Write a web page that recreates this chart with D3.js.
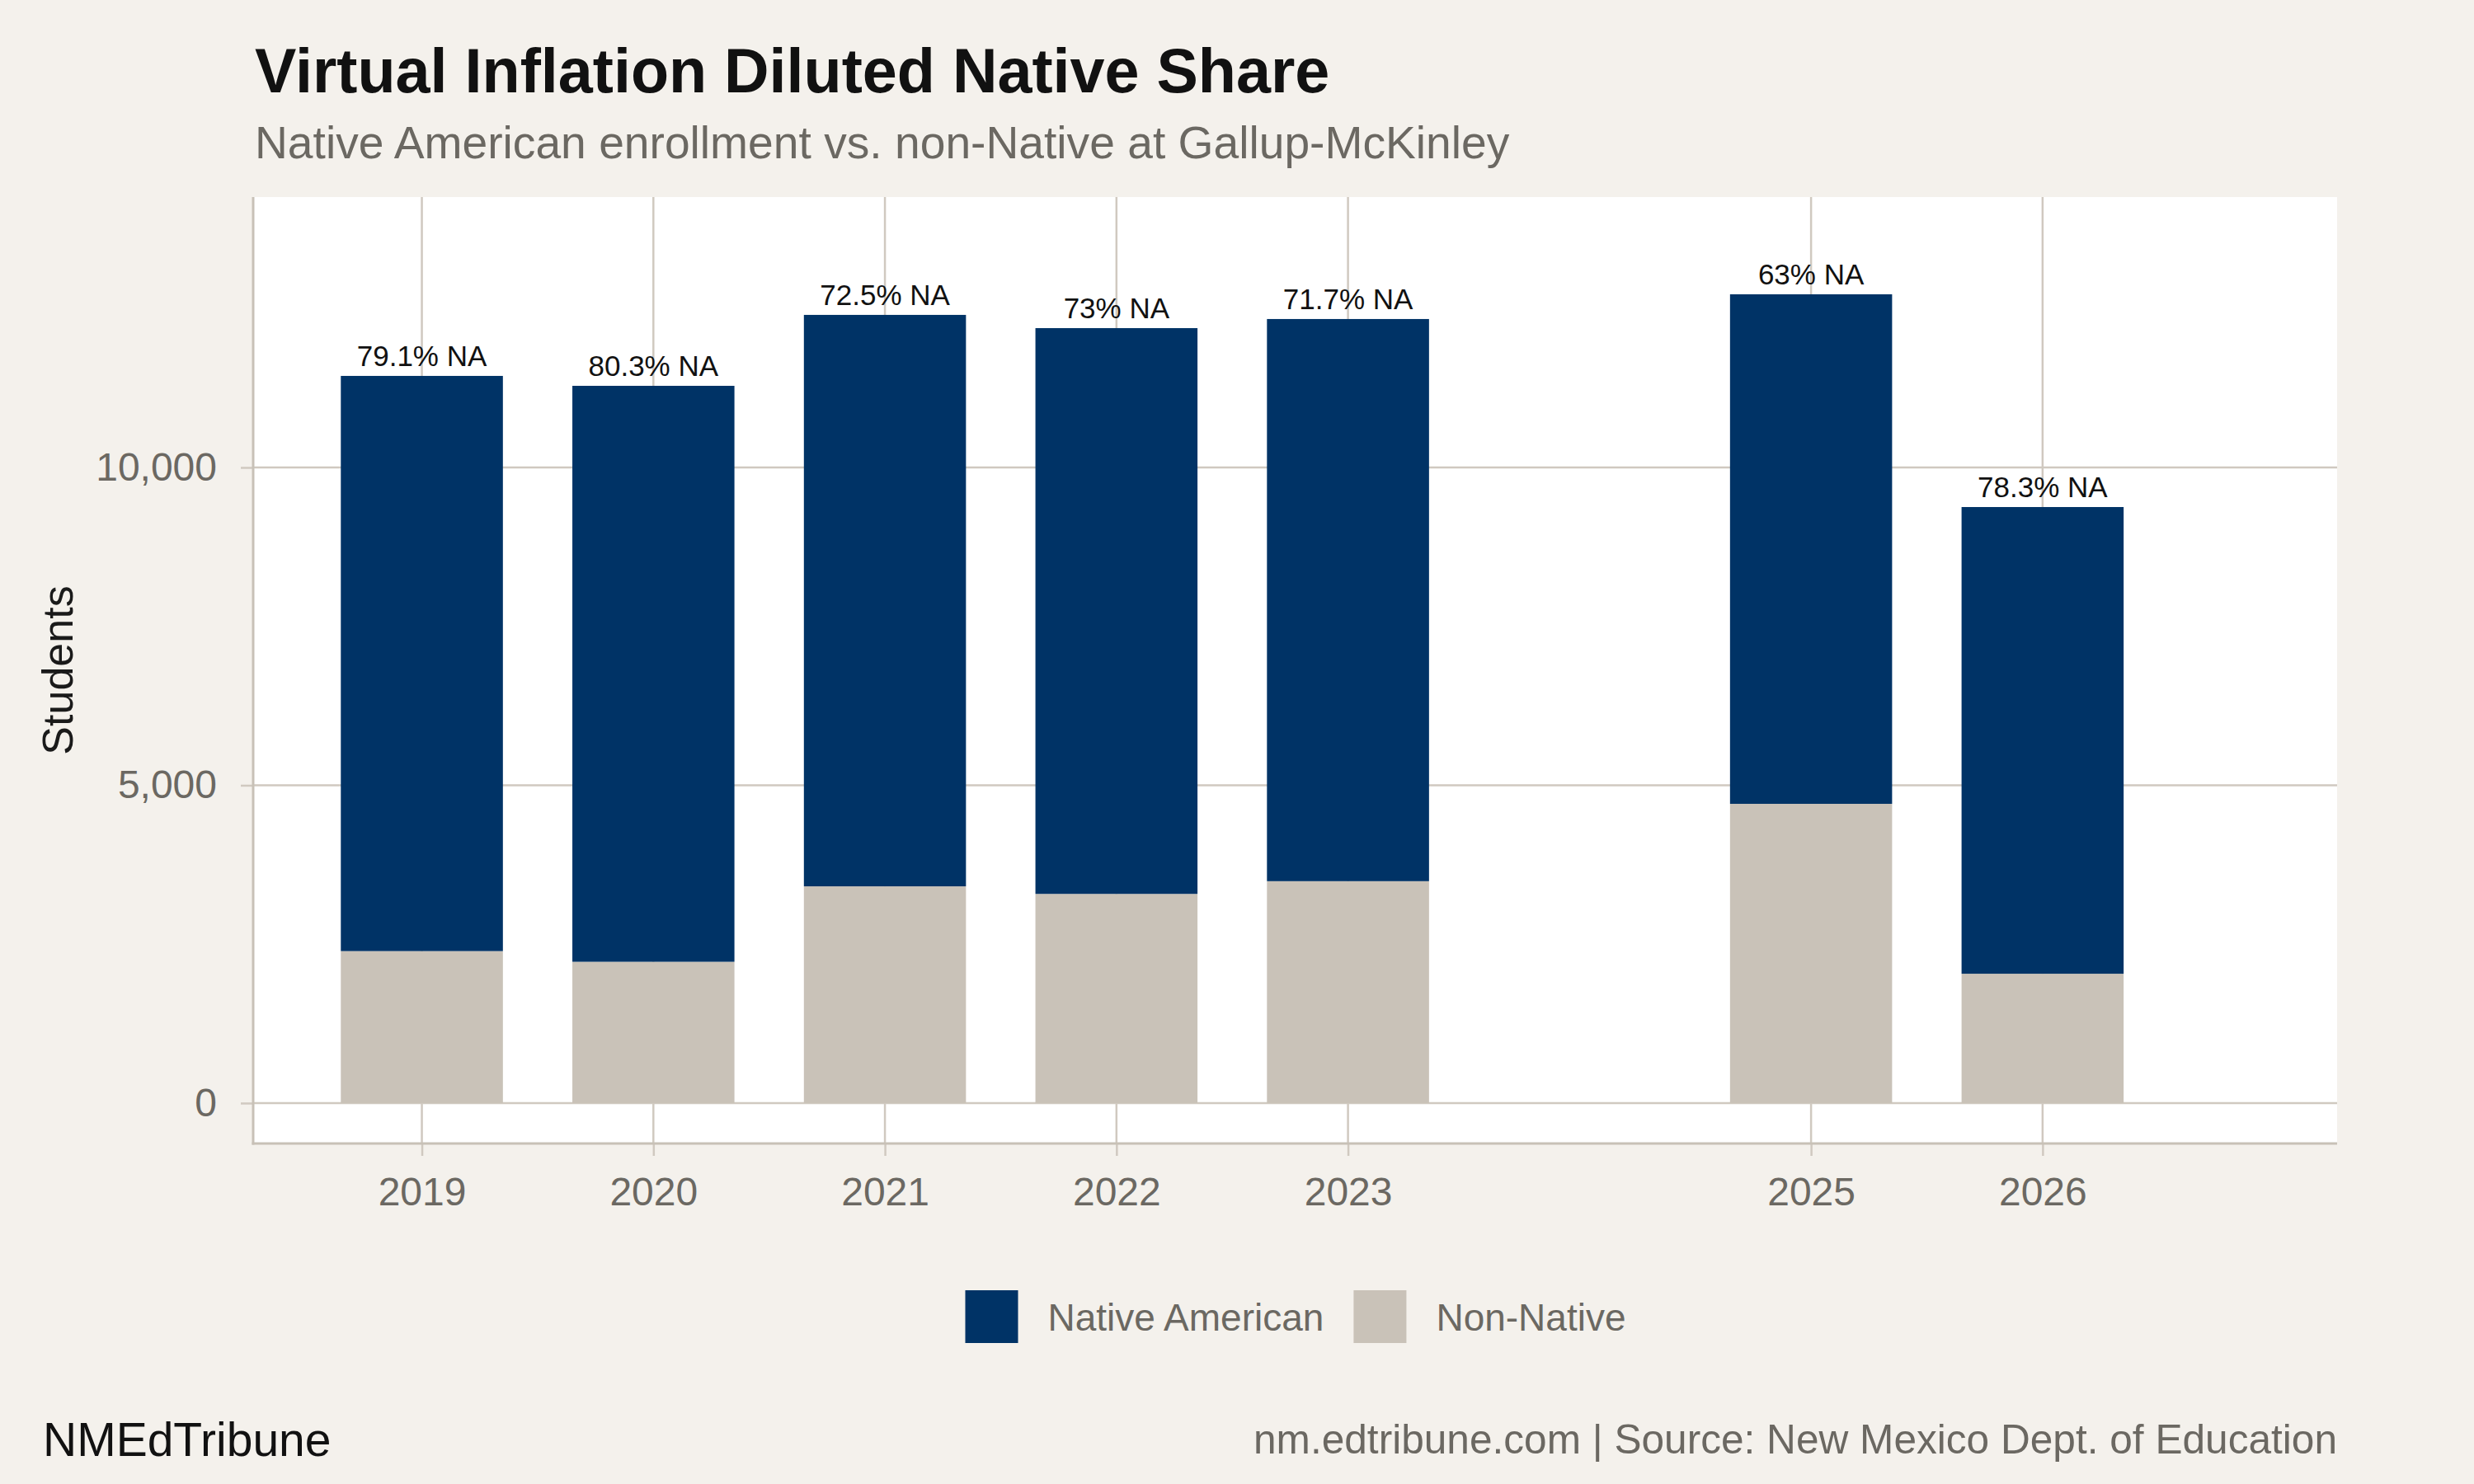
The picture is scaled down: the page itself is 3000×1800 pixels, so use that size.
<!DOCTYPE html>
<html>
<head>
<meta charset="utf-8">
<script src="https://cdn.jsdelivr.net/npm/d3@7"></script>
<style>
  html, body { margin: 0; padding: 0; background: #f4f1ec; }
  svg { display: block; font-family: "Liberation Sans", Arial, Helvetica, sans-serif; }
</style>
</head>
<body>
<svg id="chart" width="3000" height="1800"></svg>
<script>
// ---- data ----
const years = [2019, 2020, 2021, 2022, 2023, 2025, 2026];
const nativeAmerican = [9049, 9061, 8990, 8901, 8844, 8016, 7342];
const nonNative = [2391, 2223, 3410, 3291, 3491, 4708, 2035];
const yTicks = [0, 5000, 10000];
const seriesNames = ["Native American", "Non-Native"];
const seriesColors = ["#003366", "#c9c2b8"];

const titleText = "Virtual Inflation Diluted Native Share";
const subtitleText = "Native American enrollment vs. non-Native at Gallup-McKinley";
const yLabel = "Students";
const footLeft = "NMEdTribune";
const footRight = "nm.edtribune.com | Source: New Mexico Dept. of Education";

// ---- layout ----
const W = 3000, H = 1800;
const panel = { left: 308, right: 2834, top: 239, bottom: 1387 };
const gridColor = "#d0c9c0";
const axisColor = "#c8c1b7";
const mutedText = "#6b6862";

const svg = d3.select("#chart");
svg.append("rect").attr("width", W).attr("height", H).attr("fill", "#f4f1ec");

const x = d3.scaleLinear().domain([2018.275, 2027.272]).range([panel.left, panel.right]);
const y = d3.scaleLinear().domain([-636, 14254]).range([panel.bottom, panel.top]);
const barWidth = x(2019.7) - x(2019);

// panel background
svg.append("rect")
  .attr("x", panel.left).attr("y", panel.top)
  .attr("width", panel.right - panel.left).attr("height", panel.bottom - panel.top)
  .attr("fill", "#ffffff");

// gridlines
const grid = svg.append("g");
grid.selectAll("line.v").data(years).join("line")
  .attr("x1", d => x(d)).attr("x2", d => x(d))
  .attr("y1", panel.top).attr("y2", panel.bottom)
  .attr("stroke", gridColor).attr("stroke-width", 2.5);
grid.selectAll("line.h").data(yTicks).join("line")
  .attr("x1", panel.left).attr("x2", panel.right)
  .attr("y1", d => y(d)).attr("y2", d => y(d))
  .attr("stroke", gridColor).attr("stroke-width", 2.5);

// stacked data
const rows = years.map((yr, i) => ({ year: yr, "Native American": nativeAmerican[i], "Non-Native": nonNative[i] }));
const stack = d3.stack().keys(["Non-Native", "Native American"]);
const stacked = stack(rows);
const color = d3.scaleOrdinal().domain(seriesNames).range(seriesColors);

svg.append("g").selectAll("g").data(stacked).join("g")
  .attr("fill", d => color(d.key))
  .selectAll("rect").data(d => d).join("rect")
  .attr("x", d => x(d.data.year) - barWidth / 2)
  .attr("width", barWidth)
  .attr("y", d => y(d[1]))
  .attr("height", d => y(d[0]) - y(d[1]));

// bar labels
svg.append("g").selectAll("text").data(rows).join("text")
  .attr("x", d => x(d.year))
  .attr("y", d => y(d["Native American"] + d["Non-Native"]) - 12)
  .attr("text-anchor", "middle")
  .attr("font-size", 35)
  .attr("fill", "#111111")
  .text(d => {
    const p = Math.round(d["Native American"] / (d["Native American"] + d["Non-Native"]) * 1000) / 10;
    return p + "% NA";
  });

// axes
const xAxis = d3.axisBottom(x).tickValues(years).tickFormat(d3.format("d")).tickSize(15).tickPadding(26);
const gx = svg.append("g").attr("transform", `translate(0,${panel.bottom})`).call(xAxis);
const yAxis = d3.axisLeft(y).tickValues(yTicks).tickFormat(d3.format(",")).tickSize(15).tickPadding(29);
const gy = svg.append("g").attr("transform", `translate(${panel.left - 1},0)`).call(yAxis);

[gx, gy].forEach(g => {
  g.select(".domain").remove();
  g.selectAll(".tick line").attr("stroke", gridColor).attr("stroke-width", 2.5);
  g.selectAll(".tick text").attr("fill", mutedText).attr("font-size", 48)
    .attr("font-family", "'Liberation Sans', Arial, sans-serif");
});
gx.selectAll(".tick text").attr("dy", "0.71em");

// axis lines
svg.append("line").attr("x1", panel.left - 1).attr("x2", panel.left - 1)
  .attr("y1", panel.top).attr("y2", panel.bottom + 1.5)
  .attr("stroke", axisColor).attr("stroke-width", 3);
svg.append("line").attr("x1", panel.left - 2.5).attr("x2", panel.right)
  .attr("y1", panel.bottom).attr("y2", panel.bottom)
  .attr("stroke", axisColor).attr("stroke-width", 3);

// y label
svg.append("text")
  .attr("transform", `translate(88,${(panel.top + panel.bottom) / 2}) rotate(-90)`)
  .attr("text-anchor", "middle")
  .attr("font-size", 52)
  .attr("fill", "#1a1a1a")
  .text(yLabel);

// title & subtitle
svg.append("text").attr("x", 309).attr("y", 112)
  .attr("font-size", 75.5).attr("font-weight", "bold").attr("fill", "#111111")
  .text(titleText);
svg.append("text").attr("x", 309).attr("y", 192)
  .attr("font-size", 55.2).attr("fill", mutedText)
  .text(subtitleText);

// legend
const legend = svg.append("g");
const keySize = 64, keyGap = 36, itemGap = 36;
const items = seriesNames.map((name, i) => {
  const g = legend.append("g");
  g.append("rect").attr("width", keySize).attr("height", keySize).attr("y", 1565).attr("fill", seriesColors[i]);
  const t = g.append("text").attr("x", keySize + keyGap).attr("y", 1614)
    .attr("font-size", 46).attr("fill", mutedText).text(name);
  return { g, w: keySize + keyGap + t.node().getComputedTextLength() };
});
const totalW = d3.sum(items, d => d.w) + itemGap * (items.length - 1);
let cx = (panel.left + panel.right) / 2 - totalW / 2;
items.forEach(it => { it.g.attr("transform", `translate(${cx},0)`); cx += it.w + itemGap; });

// footer
svg.append("text").attr("x", 52).attr("y", 1766)
  .attr("font-size", 57).attr("fill", "#111111").text(footLeft);
svg.append("text").attr("x", panel.right).attr("y", 1763)
  .attr("text-anchor", "end")
  .attr("font-size", 49.6).attr("fill", mutedText).text(footRight);
</script>
</body>
</html>
